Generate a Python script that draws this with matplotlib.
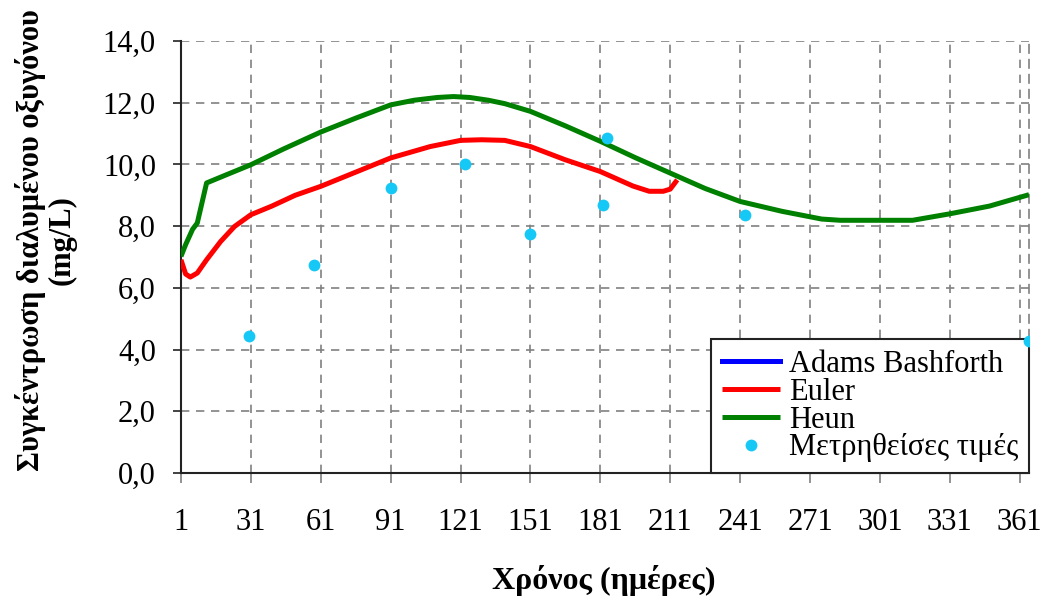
import matplotlib
matplotlib.use("Agg")
import matplotlib.pyplot as plt
from matplotlib.ticker import FuncFormatter

plt.rcParams["font.family"] = ["Liberation Serif", "DejaVu Serif"]

# Heun solution
heun_days = [1, 3, 6, 8, 12, 20, 31, 45, 61, 76, 91, 101, 111, 118, 125, 133, 140, 151,
             166, 181, 196, 211, 226, 241, 259, 276, 284, 300, 315, 331, 348, 365]
heun_vals = [7.02, 7.4, 7.9, 8.1, 9.4, 9.65, 9.99, 10.5, 11.05, 11.5, 11.93, 12.08,
             12.17, 12.2, 12.17, 12.08, 11.97, 11.72, 11.25, 10.75, 10.22, 9.72, 9.22,
             8.80, 8.48, 8.23, 8.19, 8.19, 8.19, 8.4, 8.65, 9.02]

# Euler solution
euler_days = [1, 3, 5, 8, 12, 18, 24, 31, 40, 50, 61, 76, 91, 108, 121, 130, 140,
              151, 166, 181, 195, 202, 208, 211, 214]
euler_vals = [6.91, 6.45, 6.35, 6.48, 6.91, 7.5, 7.99, 8.37, 8.65, 9.0, 9.29, 9.75,
              10.21, 10.58, 10.78, 10.8, 10.78, 10.58, 10.15, 9.77, 9.3, 9.13, 9.13,
              9.2, 9.5]

# measured values
meas_days = [30, 58, 91, 123, 151, 182, 184, 243, 365]
meas_vals = [4.45, 6.73, 9.25, 10.03, 7.76, 8.67, 10.87, 8.36, 4.27]

x_ticks = list(range(1, 362, 30))
y_ticks = [0, 2, 4, 6, 8, 10, 12, 14]

FS = 22

fig = plt.figure(figsize=(10.43, 5.97), dpi=100)
ax = fig.add_axes([0.1735, 0.2077, 0.8131, 0.7236])

ax.plot([], [], color="#0000ff", lw=3.6, label="Adams Bashforth")
ax.plot(euler_days, euler_vals, color="#ff0000", lw=3.6, label="Euler",
        solid_capstyle="butt", zorder=3)
ax.plot(heun_days, heun_vals, color="#008000", lw=3.6, label="Heun",
        solid_capstyle="butt", zorder=3)
ax.plot(meas_days, meas_vals, "o", color="#15c8f6", ms=8.5, mec="none",
        label="Μετρηθείσες τιμές", zorder=6)

ax.set_xlim(1, 365)
ax.set_ylim(0, 14)
ax.set_xticks(x_ticks)
ax.set_yticks(y_ticks)
ax.yaxis.set_major_formatter(FuncFormatter(lambda v, p: f"{v:.1f}".replace(".", ",")))

ax.grid(True, color="#808080", linestyle=(0, (5, 4)), lw=1.2)
ax.set_axisbelow(True)

ax.spines["top"].set_visible(False)
ax.spines["right"].set_color("#808080")
ax.spines["right"].set_linestyle((0, (5, 4)))
ax.spines["right"].set_linewidth(1.2)
for s in ("left", "bottom"):
    ax.spines[s].set_color("#222222")
    ax.spines[s].set_linewidth(1.5)

ax.tick_params(axis="x", direction="out", length=7, width=1.2, color="#808080",
               pad=18, labelsize=FS)
ax.tick_params(axis="y", direction="out", length=6, width=1.2, color="#222222",
               pad=12, labelsize=FS)

leg = ax.legend(loc="lower right", bbox_to_anchor=(1.0, 0.0), borderaxespad=0,
                fontsize=FS, frameon=True, fancybox=False, framealpha=1,
                edgecolor="#222222", handlelength=1.9, handletextpad=0.3,
                labelspacing=-0.04, borderpad=0.35)
leg.get_frame().set_linewidth(1.5)
leg.set_zorder(5)

fig.text(0.044, 1 - 240 / 597, "Συγκέντρωση διαλυμένου οξυγόνου\n(mg/L)",
         rotation=90, ha="center", va="center", fontsize=FS, fontweight="bold",
         multialignment="center", linespacing=1.05)
fig.text(0.579, 1 - 580 / 597, "Χρόνος (ημέρες)", ha="center", va="center",
         fontsize=FS + 1, fontweight="bold")

fig.savefig("out.png", dpi=100)
